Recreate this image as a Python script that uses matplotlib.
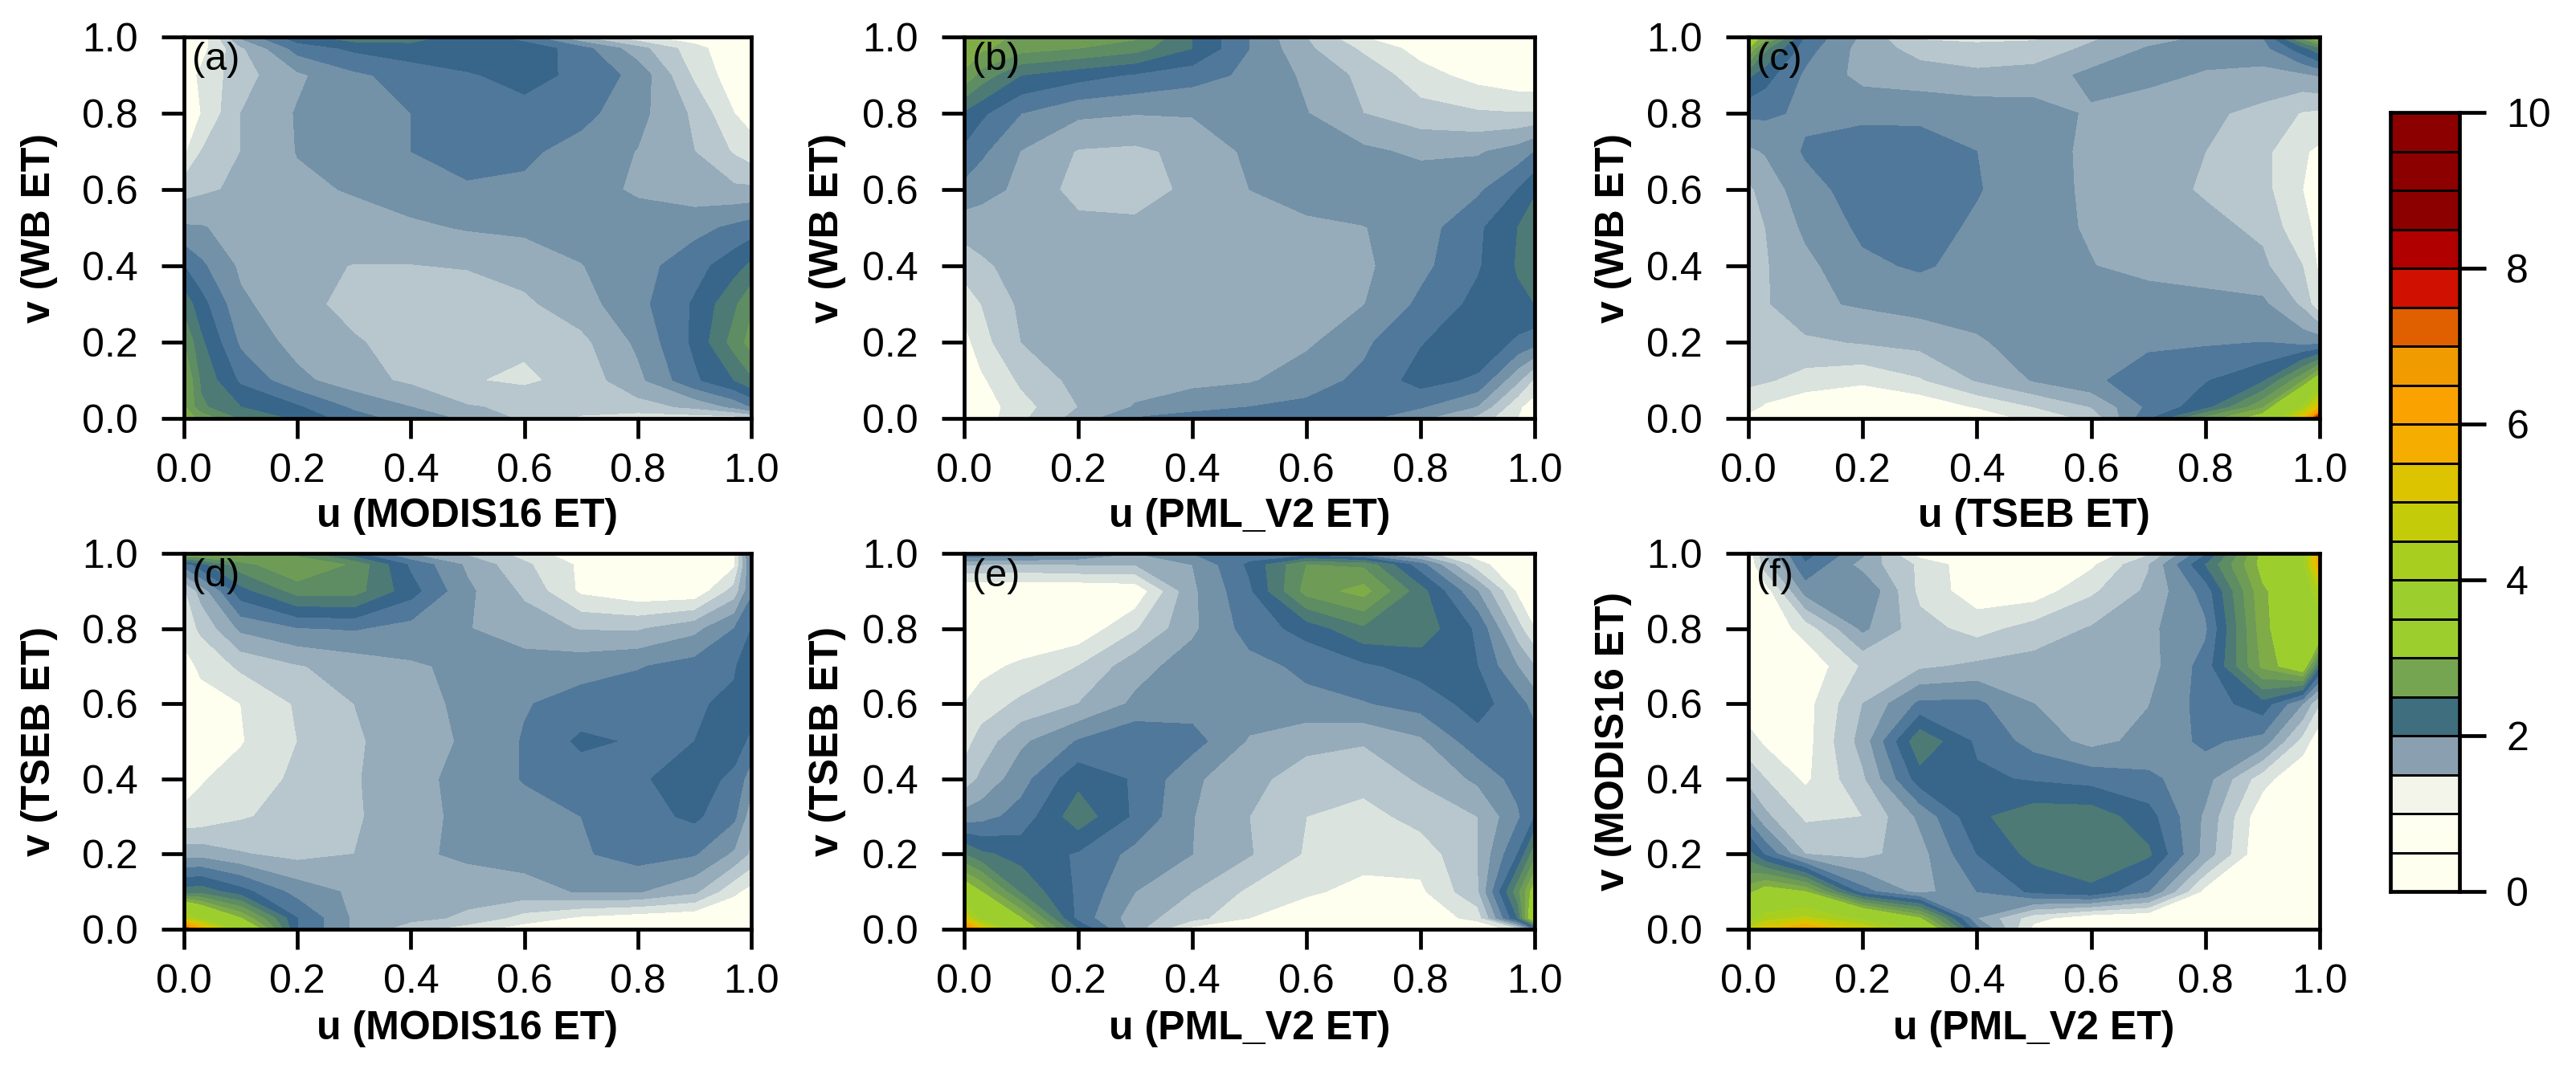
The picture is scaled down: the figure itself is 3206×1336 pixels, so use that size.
import numpy as np
import matplotlib
matplotlib.use("Agg")
import matplotlib.pyplot as plt

plt.rcParams['font.family'] = ['Liberation Sans', 'DejaVu Sans']

W, H = 3206, 1336

U_NODES = [0, .03, .1, .2, .3, .4, .5, .6, .7, .8, .9, .97, 1]
V_NODES = [1, .97, .9, .8, .7, .6, .5, .4, .3, .2, .1, .03, 0]

PANEL_A = [
 [.30,.30,1.3,1.9,2.15,2.1,1.9,1.6,1.0,.55,.35,.25,.25],
 [.30,.40,.95,1.6,1.8,1.9,1.95,1.95,1.6,1.1,.6,.3,.25],
 [.35,.55,.9,1.2,1.45,1.6,1.72,1.85,1.68,1.42,.7,.35,.3],
 [.40,.5,1.0,1.27,1.35,1.5,1.6,1.65,1.58,1.33,.95,.5,.4],
 [.45,.75,1.0,1.26,1.37,1.5,1.65,1.55,1.4,1.24,1.0,.72,.6],
 [.9,.95,1.05,1.2,1.27,1.38,1.45,1.45,1.33,1.22,1.1,1.05,1.05],
 [1.28,1.27,1.15,1.13,1.15,1.2,1.27,1.3,1.35,1.35,1.42,1.55,1.62],
 [1.75,1.55,1.2,1.07,.99,.99,1.02,1.1,1.24,1.4,1.65,1.9,2.05],
 [2.15,1.85,1.3,1.07,.93,.85,.83,.95,1.15,1.42,1.78,2.2,2.45],
 [2.5,2.05,1.45,1.15,1.02,.92,.8,.8,.93,1.3,1.8,2.35,2.6],
 [2.8,2.2,1.7,1.32,1.1,.95,.77,.7,.85,1.18,1.7,2.0,2.2],
 [2.8,2.3,2.0,1.78,1.45,1.25,1.02,.95,.88,.9,1.05,1.3,1.5],
 [2.85,2.7,2.2,1.95,1.6,1.4,1.2,.95,.7,.6,.6,.6,.7],
]
PANEL_B = [
 [2.9,2.85,2.7,2.65,2.55,2.0,1.5,1.0,.5,.35,.3,.25,.25],
 [2.95,2.8,2.6,2.5,2.35,2.0,1.5,1.05,.7,.4,.3,.25,.25],
 [2.7,2.4,2.0,1.85,1.72,1.6,1.45,1.2,.93,.6,.4,.3,.3],
 [1.95,1.8,1.5,1.3,1.26,1.27,1.3,1.26,1.0,.85,.78,.76,.76],
 [1.7,1.55,1.24,.98,.95,1.07,1.3,1.35,1.3,1.2,1.22,1.35,1.5],
 [1.42,1.33,1.2,.9,.9,1.05,1.25,1.35,1.4,1.4,1.45,1.75,1.95],
 [1.1,1.12,1.1,1.08,1.05,1.1,1.12,1.2,1.24,1.38,1.7,2.0,2.2],
 [.85,.95,1.1,1.08,1.05,1.05,1.05,1.1,1.2,1.43,1.72,2.02,2.22],
 [.6,.75,1.05,1.1,1.1,1.1,1.05,1.1,1.24,1.55,1.82,1.95,2.0],
 [.4,.65,1.0,1.1,1.12,1.12,1.13,1.2,1.45,1.73,1.95,1.7,1.6],
 [.3,.45,.8,1.08,1.14,1.17,1.22,1.4,1.55,1.85,1.7,1.05,.7],
 [.25,.35,.65,1.0,1.27,1.42,1.5,1.55,1.58,1.52,1.23,.55,.35],
 [.25,.35,.7,1.1,1.52,1.6,1.65,1.65,1.55,1.3,.9,.5,.3],
]
PANEL_C = [
 [3.2,2.9,1.7,1.2,.7,.65,.7,.95,1.15,1.27,1.5,2.6,3.2],
 [3.0,2.3,1.6,1.15,.9,.85,.85,1.05,1.27,1.33,1.4,1.9,2.2],
 [2.05,1.85,1.45,1.17,1.12,1.05,1.1,1.32,1.3,1.23,1.17,1.2,1.27],
 [1.55,1.55,1.45,1.43,1.42,1.4,1.35,1.22,1.15,1.05,.93,.73,.7],
 [1.2,1.27,1.53,1.65,1.65,1.5,1.35,1.2,1.12,1.0,.82,.53,.45],
 [.95,1.1,1.4,1.62,1.65,1.52,1.32,1.22,1.1,.97,.83,.5,.42],
 [.9,1.0,1.3,1.55,1.62,1.45,1.35,1.22,1.15,1.07,.95,.55,.45],
 [.88,.98,1.18,1.45,1.53,1.42,1.3,1.26,1.15,1.1,1.05,.75,.45],
 [.87,.97,1.2,1.28,1.35,1.35,1.37,1.4,1.4,1.35,1.3,.95,.55],
 [.85,.9,.95,1.02,1.08,1.22,1.35,1.43,1.45,1.47,1.5,1.4,1.4],
 [.8,.78,.65,.55,.72,1.02,1.27,1.45,1.63,1.73,1.95,2.7,3.3],
 [.6,.45,.3,.25,.3,.52,.75,1.0,1.55,1.9,2.7,4.0,5.5],
 [.4,.3,.25,.2,.2,.25,.6,.8,1.7,2.6,3.2,5.5,8.5],
]
PANEL_D = [
 [2.85,2.85,2.85,2.4,1.8,1.22,.95,.65,.3,.25,.25,.48,1.6],
 [1.6,1.9,2.4,2.75,2.45,1.7,1.2,.8,.45,.25,.25,.45,1.5],
 [.7,1.1,1.9,2.35,2.35,1.85,1.3,.95,.45,.3,.3,.85,1.45],
 [.6,.8,1.3,1.48,1.52,1.4,1.26,1.13,.98,.97,1.17,1.5,1.75],
 [.4,.55,.8,.98,1.1,1.22,1.3,1.35,1.4,1.48,1.6,1.72,1.95],
 [.3,.4,.5,.78,1.0,1.17,1.3,1.48,1.6,1.65,1.72,1.8,1.85],
 [.25,.3,.48,.75,.96,1.15,1.28,1.52,1.8,1.72,1.75,1.85,1.7],
 [.4,.48,.6,.8,.97,1.2,1.3,1.52,1.62,1.72,1.85,1.7,1.35],
 [.55,.58,.72,.85,.96,1.18,1.3,1.38,1.5,1.65,1.8,1.55,1.1],
 [1.15,1.15,1.02,.92,1.0,1.2,1.3,1.35,1.47,1.6,1.52,1.2,.95],
 [2.1,2.15,1.85,1.4,1.2,1.12,1.1,1.15,1.27,1.27,1.05,.55,.4],
 [4.5,3.8,3.0,1.75,1.2,1.08,.95,.65,.45,.35,.3,.25,.25],
 [8.0,6.0,3.7,1.75,1.2,.85,.6,.35,.3,.25,.25,.25,.25],
]
PANEL_E = [
 [1.7,1.7,1.7,1.5,1.25,1.5,1.6,1.55,1.3,.85,.35,.25,.25],
 [1.0,1.0,.95,1.0,1.0,1.25,1.8,2.5,2.45,1.6,.6,.25,.25],
 [.25,.25,.25,.25,.3,1.2,1.7,2.6,2.85,2.1,1.25,.45,.25],
 [.25,.25,.25,.3,.72,1.2,1.6,1.85,2.2,2.15,1.7,.85,.5],
 [.3,.42,.55,.75,1.15,1.37,1.42,1.55,1.7,1.85,1.75,1.25,1.0],
 [.5,.62,.8,1.0,1.3,1.38,1.4,1.44,1.48,1.6,1.85,1.6,1.4],
 [.65,.85,1.2,1.52,1.72,1.6,1.22,1.05,1.02,1.2,1.65,1.72,1.6],
 [.85,1.05,1.4,1.92,1.72,1.3,1.05,.92,.85,1.03,1.3,1.6,1.65],
 [1.35,1.4,1.6,2.15,1.7,1.26,1.0,.75,.65,.85,1.0,1.45,1.75],
 [2.25,2.05,1.9,1.72,1.42,1.25,1.02,.72,.62,.6,1.0,1.75,2.4],
 [3.3,3.0,2.2,1.7,1.25,1.0,.7,.55,.4,.45,.95,2.4,3.2],
 [5.0,3.6,3.0,1.65,1.1,.85,.5,.3,.25,.3,.6,2.0,3.6],
 [7.5,5.5,3.4,2.0,1.1,.4,.3,.25,.25,.25,.25,.6,1.5],
]
PANEL_F = [
 [.3,1.0,1.85,1.3,.35,.3,.25,.3,.7,1.7,3.1,3.7,6.0],
 [.25,.9,1.7,1.15,.7,.3,.25,.45,.98,2.0,3.1,3.7,6.0],
 [.25,.35,1.35,1.5,.68,.35,.35,.7,1.05,1.6,2.95,3.3,4.5],
 [.25,.3,.6,1.3,.85,.65,.85,1.02,1.2,1.45,2.9,3.4,3.5],
 [.25,.25,.3,.78,.95,1.05,1.1,1.1,1.15,1.6,2.8,3.3,2.0],
 [.35,.3,.4,1.0,1.55,1.55,1.25,1.1,1.24,1.6,1.9,1.25,.75],
 [.6,.45,.4,1.1,2.2,1.7,1.4,1.17,1.33,1.55,1.4,.65,.3],
 [.9,.75,.45,.95,1.88,1.8,1.72,1.65,1.55,1.35,.6,.25,.25],
 [1.4,1.05,.7,.75,1.3,1.95,2.15,2.15,1.85,1.2,.3,.25,.25],
 [2.1,1.7,1.0,.92,1.15,1.75,2.08,2.15,2.05,1.15,.25,.25,.25],
 [2.9,3.2,3.0,1.6,1.15,1.5,1.8,1.95,1.5,.4,.25,.25,.25],
 [3.8,4.2,4.6,3.8,3.0,1.25,.6,.3,.25,.25,.25,.25,.25],
 [4.6,5.4,6.2,5.0,3.7,1.6,.4,.25,.25,.25,.25,.25,.25],
]

PANEL_TITLES = ['(a)', '(b)', '(c)', '(d)', '(e)', '(f)']
X_LABELS = ['u (MODIS16 ET)', 'u (PML_V2 ET)', 'u (TSEB ET)',
            'u (MODIS16 ET)', 'u (PML_V2 ET)', 'u (PML_V2 ET)']
Y_LABELS = ['v (WB ET)', 'v (WB ET)', 'v (WB ET)',
            'v (TSEB ET)', 'v (TSEB ET)', 'v (MODIS16 ET)']
TICKS = [0.0, 0.2, 0.4, 0.6, 0.8, 1.0]

# colour key: 20 bands of 0.5
KEY_LEVELS = [0,.5,1,1.5,2,2.5,3,3.5,4,4.5,5,5.5,6,6.5,7,7.5,8,8.5,9,9.5,10]
KEY_COLORS = ['#fffff0','#fffff0','#f3f5ea','#8aa0b0','#3f6e7e','#76a552',
              '#9ccf2e','#9ccf2e','#a8cf20','#c4cc0a','#dcc400','#f5ae00',
              '#faa300','#f09c00','#e06000','#d01000','#b00000','#8c0000',
              '#8c0000','#8c0000']

# filled contours in the panels are finer than the key
FILL_LEVELS = [0,.5,.75,1,1.25,1.5,1.75,2,2.25,2.5,2.75,3,4,4.5,5,5.5,6,6.5,7,7.5,8,8.5,10]
FILL_COLORS = ['#fffff0','#dbe3de','#b8c7cd','#96acba','#7391a7','#50789a',
               '#38668a','#4d7a75','#5e8c63','#6e9c56','#80ac48','#9ccf2e',
               '#a8cf20','#c4cc0a','#dcc400','#f5ae00','#faa300','#f09c00',
               '#e06000','#d01000','#b00000','#8c0000']

LEFTS = [(229, 935), (1200, 1910), (2176, 2887)]
ROWS = [(46, 521), (689, 1157)]
YLABEL_GAP = [157, 147, 145]
XLABEL_TOP = [620, 1258]

fig = plt.figure(figsize=(W/100, H/100), dpi=100, facecolor='white')

def rect(x0, x1, y0, y1):
    return [x0/W, 1-y1/H, (x1-x0)/W, (y1-y0)/H]

panels = [PANEL_A, PANEL_B, PANEL_C, PANEL_D, PANEL_E, PANEL_F]
LW = 3.4
FS = 36
for i, z in enumerate(panels):
    (x0, x1) = LEFTS[i % 3]
    (y0, y1) = ROWS[i // 3]
    ax = fig.add_axes(rect(x0, x1, y0, y1))
    ax.contourf(U_NODES, V_NODES, np.array(z), levels=FILL_LEVELS, colors=FILL_COLORS)
    ax.set_xlim(0, 1); ax.set_ylim(0, 1)
    ax.set_xticks(TICKS); ax.set_yticks(TICKS)
    ax.set_xticklabels([f'{t:.1f}' for t in TICKS], fontsize=FS)
    ax.set_yticklabels([f'{t:.1f}' for t in TICKS], fontsize=FS)
    ax.tick_params(axis='x', length=18, width=LW, pad=13)
    ax.tick_params(axis='y', length=20, width=LW, pad=21)
    for s in ax.spines.values():
        s.set_linewidth(LW)
    ax.set_xlabel(X_LABELS[i], fontsize=FS, fontweight='bold')
    ax.set_ylabel(Y_LABELS[i], fontsize=FS, fontweight='bold')
    ax.xaxis.set_label_coords(0.5, -(XLABEL_TOP[i // 3] - y1) / (y1 - y0))
    ax.yaxis.set_label_coords(-YLABEL_GAP[i % 3] / (x1 - x0), 0.5)
    ax.text(0.014, 0.94, PANEL_TITLES[i], transform=ax.transAxes, fontsize=35,
            va='center', ha='left')

cax = fig.add_axes(rect(2975, 3061, 140, 1110))
cax.pcolormesh([0, 1], KEY_LEVELS, np.array(KEY_LEVELS[:-1])[:, None] + .25,
               cmap=matplotlib.colors.ListedColormap(KEY_COLORS),
               norm=matplotlib.colors.BoundaryNorm(KEY_LEVELS, 20),
               edgecolors='black', linewidth=2.0)
cax.set_xlim(0, 1); cax.set_ylim(0, 10)
cax.set_xticks([])
cax.yaxis.tick_right()
cax.set_yticks([0, 2, 4, 6, 8, 10])
cax.set_yticklabels(['0', '2', '4', '6', '8', '10'], fontsize=FS)
cax.tick_params(length=24, width=LW, pad=18)
for s in cax.spines.values():
    s.set_linewidth(LW)

fig.savefig('out.png', dpi=100)
